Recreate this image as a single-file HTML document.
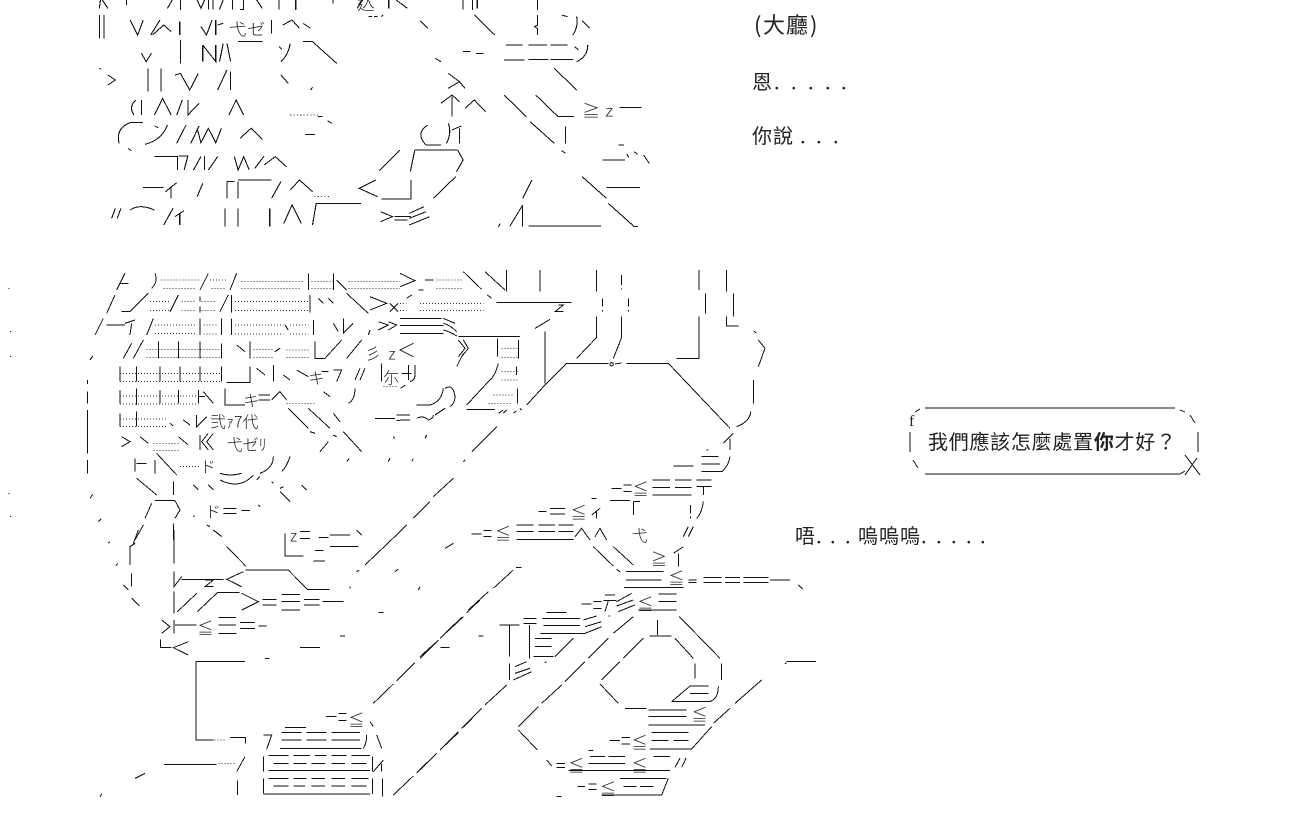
<!DOCTYPE html>
<html lang="zh-Hant"><head><meta charset="utf-8"><title>AA</title>
<style>
html,body{margin:0;padding:0;background:#fff}
svg{display:block}
.s{fill:none;stroke:#111;stroke-width:3;shape-rendering:crispEdges}
.d{fill:none;stroke:#333;stroke-width:3;stroke-dasharray:3 6;shape-rendering:crispEdges}
.a{font:48px "Noto Sans CJK TC","WenQuanYi Zen Hei",sans-serif;font-weight:300;fill:#222}
.t{font:20px "WenQuanYi Zen Hei","Noto Sans CJK TC",sans-serif;fill:#222}
.h{fill:none;stroke:#111;stroke-width:1;shape-rendering:crispEdges}
</style></head><body>
<svg width="1300" height="830" viewBox="0 0 1300 830" xmlns="http://www.w3.org/2000/svg">
<rect width="1300" height="830" fill="#fff"/>

<g transform="translate(80,0) scale(.372,.33333)">
<path class="s" d="M55 0L52 25M60 0L75 25M125 0V15M235 25L248 0M270 0V30M315 0L325 25L335 0M345 0V28M358 0V28M375 28L385 0M410 0V28M430 28H440V0M475 0L490 25M535 0V28M580 0V30M680 0V10M745 25L760 0M830 0V25M850 0L880 25M1030 0V28M1055 0V30M1068 0V25M1230 0V30
M52 45V115M65 45V115M135 60L155 105L170 60M190 105L215 60M195 105L225 75L245 95M268 65V105M325 80L340 105L355 60M365 60V105M370 75L385 70M515 60V100M545 75L570 60L590 85M600 70L620 85M775 50h10M790 50h10M810 50l5-5M915 62L935 85M1060 45L1115 105M1230 45V75L1222 80L1230 85V105M1295 45l15 5M1335 50Q1340 80 1325 105M1350 62L1370 85
M425 125H490M535 140l8 8M565 130Q560 165 540 185M600 125H625L690 190M165 160L178 185L192 160M270 120V190M330 135V185M330 135L365 185V135M375 185L385 130M395 130L405 185M955 175L970 185M1030 155H1050M1065 160H1085M1145 135H1190M1205 135H1255M1265 135H1310M1140 180H1195M1205 178H1260M1265 178H1325M1330 140l10 10M1365 135Q1365 170 1335 185
M52 205l5 3M75 225L95 240L75 255M183 205V275M218 205V275M255 225l15-5L295 270L318 220M370 270L395 210M405 215V270M540 225L560 250M620 270l5-8M990 220L1020 245L990 265M1020 245L1035 265M1275 205L1335 270
M150 300Q130 320 145 345M165 300V345M200 345L222 295L245 345M260 345L275 300M290 300V345L320 310M400 345L420 300L440 345M640 350h12M665 362l12 8M970 310L1000 285L1020 305M1000 290V350M1035 325L1060 300L1090 335M1140 285L1200 350M1225 285L1285 350H1328M1450 323H1510
M135 368Q95 385 105 430M135 368H170M200 378l10 5M235 375Q220 420 175 433M260 430L285 375M298 430L320 378M315 385L325 428L345 385L365 428L380 385M430 415L460 385L490 418M605 403H632M935 375Q900 400 930 435M990 370Q1000 400 985 430M1000 390l25-12M1020 385V430M1210 365L1275 430M1305 380V430
M130 445l8 8M930 435H970M200 470H262V510M265 468H290L280 510M305 510L325 470M335 468V510M345 510L370 470M415 470L425 510L440 470L455 510M470 505L495 468M495 495L525 470L555 500M805 512L860 450M900 450H1015M900 450L888 515M1015 450L1030 480L1012 515M1295 452l10 8M1448 435h15M1405 480H1465M1470 462l5 10M1490 455l8 8M1515 465l15 25
M170 562H225M230 575L260 548M245 560V595M315 590L330 550M395 545V595M425 545V595M395 545H415M425 540H515M515 595L540 545M565 570L590 540L625 575M795 540L750 565L800 590M810 597H890V540M950 595L1010 530M1190 595L1215 540M1350 530L1415 595M1415 562H1505
M85 655L95 625M100 655L110 625M135 630Q160 610 200 630M225 675L250 625M255 650L280 632M268 640V675M390 625V680M425 625V680M510 625V680M548 670L570 615L595 670M625 675L635 610H755M808 635L840 650L808 665M845 650H890M845 660H880M885 640L925 620M885 655L930 635M885 675L940 650M1125 680l5-10M1155 680L1190 615V680M1205 678H1400M1420 610L1490 680H1500"/>
<path class="d" d="M565 345h75M630 590H670"/>
<text class="a" x="400" y="105">弋</text><text class="a" x="450" y="105">ゼ</text>
<text class="a" x="745" y="28">込</text>
<text class="a" x="1350" y="350">≧</text><text class="a" x="1412" y="350">z</text>
</g>

<g transform="translate(0,260) scale(.33333)">
<path class="s" d="M350 90L375 40M360 70H385M465 40Q475 65 455 85M600 90L625 40M690 90L710 40M925 40V90M1000 40V90M1010 60L1040 90
M320 160L345 105M365 155H390L445 100M510 155L535 105M600 110V125M600 140V158M660 155L685 105M695 105V158M930 105V158M955 115L970 130M985 115L1000 130M1040 100L1105 160M1110 110L1160 130L1110 150M1170 130L1195 155M1195 130L1170 155
M285 225L310 175M320 195H375M375 190L405 180M395 190L390 225M440 225L460 175M600 175V225M665 175V225M695 175V225M855 195l10 15M940 180V225M1000 190L1015 215M1030 175V220L1060 190M1105 225l5-15M1135 185L1165 195L1135 210M1165 185L1190 195L1165 210
M270 300l8-12M370 295L395 250M400 295L430 240M475 245V295M535 245V295M600 245V295M665 250V295M710 255L735 275M750 245V295M825 275l15-10M945 245V295H975L1025 240M1040 295L1085 240
M360 320V365M410 320V365M480 320V365M540 320V365M600 320V365M665 320V365M680 368H750V320M770 325L795 345M820 315V365M850 345L870 360M890 330L925 350M965 335H985M1000 330H1025L1010 365M1065 360L1080 325M1080 360L1095 325M1145 310V365
M262 360v12M262 395V430M360 390V430M410 385V435M480 390V430M535 390V430M595 390V430M595 410H615M610 395L640 430M675 385V435H735M775 405H810M775 420H810M815 420L840 395L860 420M970 395L990 410M1065 385Q1065 420 1045 430
M262 450V580M262 600V640M360 460V500M410 455V500M510 490l10 8M550 480L570 495M590 465V500L620 470M865 445L925 505M925 445L990 505M1000 460L1020 485M1125 475H1185M1190 465H1200M1190 482H1200
M365 530L390 545L365 560M420 530L445 550M535 530L565 555M600 525V570M625 520L605 545L625 570M640 520L620 545L640 570M930 515l15 5M1000 525l10 5M1030 515L1085 575M960 575L985 545M1180 530l5 5
M1040 605l8-10M1165 605l5-10M405 595V635M465 600V640M410 610H440M470 580L530 645M660 640Q690 650 725 640M820 590Q820 625 780 640M870 590Q860 620 845 635
M410 655L470 705M520 665V705M580 675l15 15M625 675L640 690M660 660Q720 690 760 645M770 660l10-10M815 665l5 5M850 680l-10 5M905 675l15 15M270 715l8-12
M465 722H525M435 775L455 730M525 722L540 750L525 775M670 745H710M670 760H710M725 752H750M775 735l5 5M840 695L870 725M580 770l5-3M295 785l8-8
M405 840L430 795M520 790V840M620 795l10 5M640 810L665 830M25 85h3M30 215h3M30 290h3M25 700h3M30 770h3"/>
<path class="d" d="M485 60H600M490 85H590M630 60H680M635 85H680M725 65H910M725 85H905M935 65H1000M935 85H1000M1045 65H1200M1045 85H1200
M450 125H510M450 152H510M545 125H590M545 152H590M605 125H650M605 152H650M705 125H925M705 152H925
M465 195H590M465 220H590M610 195H650M610 222H650M705 195H850M705 222H850M870 195H925M870 222H925
M440 268H660M440 292H660M760 268H820M760 292H820M860 270H925M860 292H930
M360 340H660M360 365H660M360 408H590M360 432H590M860 430H950M1150 380H1195
M360 477H500M360 500H500M460 550H540M460 572H540M540 620H600"/>
<text class="a" x="1095" y="298">彡</text><text class="a" x="1165" y="298" font-size="36">z</text>
<text class="a" x="925" y="372">キ</text><text class="a" x="1150" y="370">尓</text>
<text class="a" x="730" y="440">キ</text>
<text class="a" x="630" y="503">弐ｧ7代</text>
<text class="a" x="680" y="572">弋ゼﾘ</text>
<text class="a" x="600" y="638">ド</text><text class="a" x="615" y="772">ド</text>
</g>

<g transform="translate(400,260) scale(.33333)">
<path class="s" d="M0 40L45 62L0 80M75 60H100M190 35L245 88M255 35L315 90M320 30V95M420 30V95M590 30V95M665 45V75M665 85V88M897 30V90M980 30V95
M35 105l-15 10M55 90H70M262 105L275 115M290 128H515M475 135H490L465 155H490M607 115V140M607 150V155M685 115V140M685 150V155M917 100V160M1000 100V170
M0 175H125M0 197H130M0 220H130M130 175L165 190M130 190Q150 195 170 215M130 210Q150 215 170 228M175 230H360M175 240L195 265L175 290M190 240L205 265L185 290M170 320L190 280M292 235V290M355 240V295M435 215V370M405 205L450 178M590 170V232L530 295M665 170V232L640 295M897 170V295H830M980 170V198H1015M1060 212l10 8M1075 240L1095 265L1075 320
M500 310H625M645 312l20-3M680 310H805L990 505M500 310L435 375L380 435M295 310Q285 350 265 365L200 435M350 320V345M352 385V430M200 448H285M295 460L310 450M310 460L320 450M340 460l10-8M360 445l5 5
M50 435H90Q125 425 130 385M135 385Q160 370 165 410Q165 430 150 440M105 465Q120 455 135 445M0 465H30M0 480H30M50 475Q70 465 85 480Q100 475 100 465M40 250L0 270L40 290M5 340h30M25 315V360M45 315V345Q45 360 30 365M1 385l15-10
M290 500L215 575M160 655L100 710M90 725L40 775M20 795L0 815M195 600l-5 5M75 535l5-10M35 605l5-10
M1060 360V430M1052 455Q1050 485 1010 500M1000 520L970 550M990 535V570M920 570h5M905 590H955M905 612H960M905 635H965Q985 620 990 590M820 618H880
M635 685H665M670 675H695M670 695H695M758 660H810M825 660H875M758 682H810M825 682H875M758 705H875M890 660H935M890 680H935M910 680V705M872 735V760M872 770V775M910 725Q905 760 890 775M630 722H690M700 725H720M700 725V765M575 715H590
M415 755H440M450 745H495M450 762H495M575 765L600 745M590 755V775M215 822H245M250 812H275M250 830H275M350 795H400M415 795H465M475 795H520M350 815H400M415 815H465M475 815H520M350 838H520M525 830L545 805L570 840M585 830L600 805L620 840M850 830L865 800M865 830L880 800"/>
<circle class="s" cx="635" cy="313" r="5"/>
<path class="d" d="M110 60H185M110 85H185M60 130H250M60 152H250M0 130H20M0 152H20M305 265H355M305 292H355M305 335H355M305 360H355M280 405H340M265 430H335"/>
<text class="a" x="695" y="845">弋</text>
<text class="a" x="698" y="705">≦</text><text class="a" x="512" y="775">≦</text><text class="a" x="285" y="838">≦</text>
</g>

<g transform="translate(80,530) scale(.33333)">
<path class="s" d="M165 40L150 50V105M175 0L160 40M282 0V100M282 125V170L305 140M305 148H430M375 150H400L375 170H400M490 125L440 148L485 170M497 120H625L682 178H748M440 50L497 108M420 15L400 0M85 40l5-5M108 108l5-8M130 165l15 15M155 130V170M155 205L178 228
M282 185V250M292 245L350 190M352 245L412 188H478M485 190L535 215L485 240M548 208H590M548 225H590M605 193H660M605 215H660M605 240H660M672 208H718M672 225H718M728 215H790
M245 270L270 290L245 310M282 270V310M285 285H350M415 262H468M415 285H468M415 310H470M480 278H525M480 295H525M535 288H560
M242 328V353H275M325 335L280 353L325 375M348 395H495M348 395V630H400M450 622H497V640M660 353H720M555 385H568M780 318H795M895 247H910M1085 353H1108
M880 520L940 462M950 452L1005 398M1020 385L1075 330M1090 315L1145 262M1160 248L1200 210
M615 10V78H670M660 5H690M660 25H690M715 22H745M750 15H810M830 0L845 15M705 62H730M750 50H835M700 93H735M855 105L965 0M830 125l8-5M945 125l10-8M810 170v5M1015 180l5-10M1095 55l25-15M165 745l30-15M60 800l5-8
M738 560H770M775 550H800M775 572H800M615 592H678M605 607H665M680 607H740M755 607H840M605 630H665M680 630H740M755 630H840M600 655H845M860 615Q860 640 850 655M870 575L880 590M890 615L905 655M550 615H575L560 658
M550 680V725M565 677H625M640 677H690M705 677H740M755 677H800M815 677H870M580 700H625M640 700H680M695 700H735M755 700H795M815 700H860M565 722H870M878 680V725M880 725L910 690M905 700V725
M550 745V790M565 745H625M640 745H680M695 745H735M755 745H795M815 745H865M580 768H625M640 768H675M695 768H735M755 768H795M815 768H860M550 792H870M878 745V792M908 745V800
M252 703H410M470 725L495 680M472 752V795M940 795L1000 738M1010 728L1065 675M1080 660L1135 608M1150 592L1200 540"/>
<path class="d" d="M385 630h50M415 700h50"/>
<text class="a" x="630" y="35" font-size="36">z</text>
<text class="a" x="352" y="312">≦</text>
<text class="a" x="805" y="588">≦</text>
</g>

<g transform="translate(420,530) scale(.33333)">
<path class="s" d="M520 50L580 108M580 50L640 105M590 118l10 7M75 55l25-15M760 70L790 50M775 70V110M618 125H730M618 150H725M612 172H790M805 150H830M805 158H830M850 142H905M915 142H960M970 142H1045M850 158H905M915 158H960M970 158H1045M1050 150H1110M1135 165L1148 178
M485 222H515M520 215H545M520 235H545M555 195H585M550 212H590M565 212L555 245M590 215L635 190M590 228L640 210M595 245L645 225M715 192H770M715 215H770M655 240H770
M565 258h5M380 247H440M310 265H350M310 280H350M368 265H480M370 287H480M362 310H490M490 270L530 258M495 290L545 275M490 312L545 290M238 285H298M268 285V380M328 285V385M268 400V450M345 325H395M345 350H395M340 380H400M405 380L460 325M375 398l5-3M285 410L320 395M285 430L330 415M280 450L335 425
M175 318H190M62 352H88M0 380L50 335M60 325L130 260M145 240L205 185M220 175L280 120M288 112H305
M0 720L50 670M60 660L115 605M125 595L185 535M195 525L260 465
M295 590L355 530M365 520L425 465M435 455L495 395M505 385L565 325M580 310L640 260M295 600L352 660M380 690L395 708
M712 270V315M688 318H755M545 450L600 395M610 385L670 325M540 462L595 520M615 535H680M765 325L820 385M825 400V445M905 400V450M778 260L900 385
M755 515L810 468H865M810 490H865M755 515H870Q895 505 895 470M685 540H800M685 560H800M685 585H855M880 580L930 535M945 520L1025 450M1100 395H1188M1100 398l-5 3
M568 632H600M605 622H630M605 642H630M695 607H805M695 632H745M760 632H805M690 657H815L875 590
M410 700H435M410 712H435M505 662H520M510 680H555M565 680H615M505 700H615M445 722H750M700 680H750M765 712L780 685M785 712L798 685
M472 770H495M505 762H530M505 778H530M600 745H740M610 770H650M660 770H700M545 795H725L745 745M410 800H425"/>
<text class="a" x="693" y="105">≧</text><text class="a" x="745" y="162">≦</text><text class="a" x="652" y="240">≦</text>
<text class="a" x="815" y="572">≦</text><text class="a" x="635" y="655">≦</text><text class="a" x="445" y="725">≦</text><text class="a" x="635" y="725">≦</text><text class="a" x="540" y="795">≦</text>
</g>

<text class="t" x="754" y="33" style="font-size:22px">(</text><text class="t" x="763 786" y="33" style="font-size:22px">大廳</text><text class="t" x="810" y="33" style="font-size:22px">)</text>
<text class="t" x="752" y="89">恩</text><text class="t" x="774 791 808 825 841" y="89">.....</text>
<text class="t" x="752" y="143" font-weight="bold">你</text><text class="t" x="773" y="143">說</text><text class="t" x="800 816 833" y="143">...</text>

<path class="h" d="M925 408H1175M925 474H1180M910 432V452M1198 432V452M915 412l5-3M1180 410l5 2M1190 415l5 8M913 460l5 8M1185 455L1200 475M1197 458L1185 475M1180 474l5-3"/>
<text x="909" y="426" style="font:16px 'Liberation Serif',serif;fill:#222">f</text>
<text class="t" x="928" y="449" textLength="248" lengthAdjust="spacing">我們應該怎麼處置<tspan font-weight="bold">你</tspan>才好？</text>

<text class="t" x="795" y="543">唔</text><text class="t" x="816 830 845" y="543">...</text>
<text class="t" x="858" y="543" textLength="62">嗚嗚嗚</text><text class="t" x="921 936 951 966 980" y="543">.....</text>
</svg>
</body></html>
